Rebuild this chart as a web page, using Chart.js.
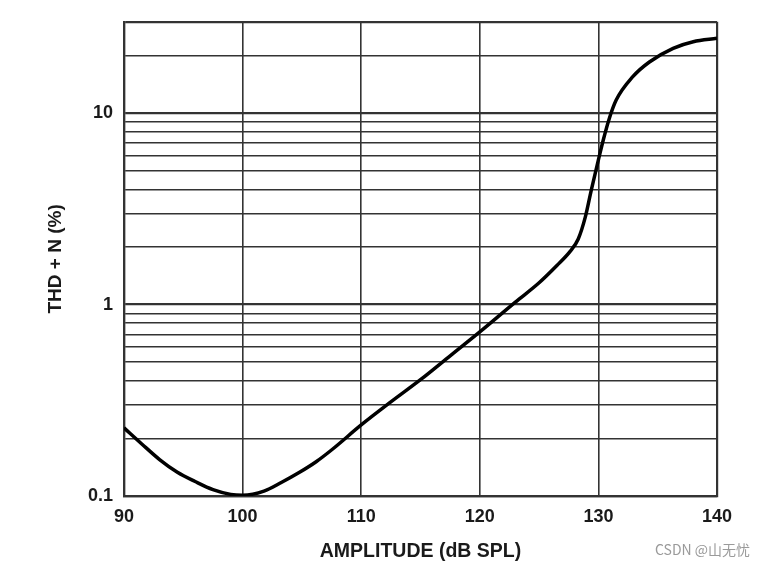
<!DOCTYPE html>
<html>
<head>
<meta charset="utf-8">
<script src="https://cdn.jsdelivr.net/npm/chart.js@4/dist/chart.umd.min.js"></script>
<style>
html,body{margin:0;padding:0;background:#fff;}
#wrap{width:771px;height:567px;position:relative;}
</style>
</head>
<body>
<div id="wrap"><canvas id="c" width="771" height="567"></canvas></div>
<script>
// Data
const amplitude = [90, 91.5, 93, 94.5, 96, 97.5, 99, 100, 101.8, 103.3, 104.8, 106.2, 107.6, 110, 112.5, 115, 117.5, 120, 123, 125, 126.5, 127.6, 128.3, 128.9, 129.4, 130, 130.4, 130.9, 131.5, 132.9, 134.3, 136.3, 138, 140];
const thdN = [0.227, 0.187, 0.155, 0.133, 0.119, 0.108, 0.102, 0.101, 0.106, 0.118, 0.133, 0.151, 0.176, 0.235, 0.31, 0.405, 0.54, 0.72, 1.03, 1.3, 1.6, 1.89, 2.2, 2.87, 3.96, 5.7, 7.2, 9.3, 11.7, 15.5, 18.5, 21.8, 23.6, 24.6];
const xTicks = [90, 100, 110, 120, 130, 140];
const yGrid = [0.1,0.2,0.3,0.4,0.5,0.6,0.7,0.8,0.9,1,2,3,4,5,6,7,8,9,10,20,30];
const yLabels = [0.1, 1, 10];
const xTitle = 'AMPLITUDE (dB SPL)';
const yTitle = 'THD + N (%)';
const watermark = 'CSDN @山无忧';

const points = amplitude.map((x, i) => ({x: x, y: thdN[i]}));
const gridColor = '#333333';
const textColor = '#1a1a1a';
const fontFam = '"Liberation Sans", Arial, sans-serif';

const watermarkPlugin = {
  id: 'wm',
  afterDraw(chart) {
    const ctx = chart.ctx;
    ctx.save();
    ctx.font = '14px "Noto Sans CJK SC", "Liberation Sans", sans-serif';
    ctx.fillStyle = '#9a9a9a';
    ctx.textAlign = 'left';
    ctx.textBaseline = 'middle';
    ctx.fillText(watermark, 655, 550);
    ctx.restore();
  }
};

new Chart(document.getElementById('c'), {
  type: 'line',
  data: {
    datasets: [{
      data: points,
      borderColor: '#000',
      borderWidth: 3.5,
      pointRadius: 0,
      fill: false,
      cubicInterpolationMode: 'monotone'
    }]
  },
  options: {
    responsive: false,
    animation: false,
    devicePixelRatio: 1,
    layout: {padding: {left: 0, right: 54, top: 21, bottom: 0}},
    plugins: {legend: {display: false}, tooltip: {enabled: false}},
    scales: {
      x: {
        type: 'linear',
        min: 90, max: 140,
        afterBuildTicks: (s) => { s.ticks = xTicks.map(v => ({value: v})); },
        afterFit: (s) => { s.height = 71; },
        grid: {
          color: gridColor,
          lineWidth: (c) => (c.tick && (c.tick.value === 90 || c.tick.value === 140)) ? 2.2 : 1.6,
          drawTicks: false
        },
        border: {display: true, color: gridColor, width: 2.2},
        ticks: {
          color: textColor,
          padding: 10,
          font: {family: fontFam, size: 18, weight: 'bold'},
          maxRotation: 0,
          autoSkip: false,
          callback: (v) => String(v)
        },
        title: {
          display: true,
          text: xTitle,
          color: textColor,
          font: {family: fontFam, size: 19.5, weight: 'bold'},
          padding: {top: 0, bottom: 4}
        }
      },
      y: {
        type: 'logarithmic',
        min: 0.1, max: 30,
        afterBuildTicks: (s) => { s.ticks = yGrid.map(v => ({value: v})); },
        afterFit: (s) => { s.width = 124; },
        grid: {
          color: gridColor,
          lineWidth: (c) => {
            const v = c.tick ? c.tick.value : 0;
            if (v === 0.1 || v === 30) return 2.2;
            if (v === 1 || v === 10) return 2.2;
            return 1.4;
          },
          drawTicks: false
        },
        border: {display: true, color: gridColor, width: 2.2},
        ticks: {
          color: textColor,
          padding: 11,
          autoSkip: false,
          font: {family: fontFam, size: 18, weight: 'bold'},
          callback: (v) => yLabels.includes(Number(v)) ? String(v) : ''
        },
        title: {
          display: true,
          text: yTitle,
          color: textColor,
          font: {family: fontFam, size: 19, weight: 'bold'},
          padding: {top: 44, bottom: 0}
        }
      }
    }
  },
  plugins: [watermarkPlugin]
});
</script>
</body>
</html>
